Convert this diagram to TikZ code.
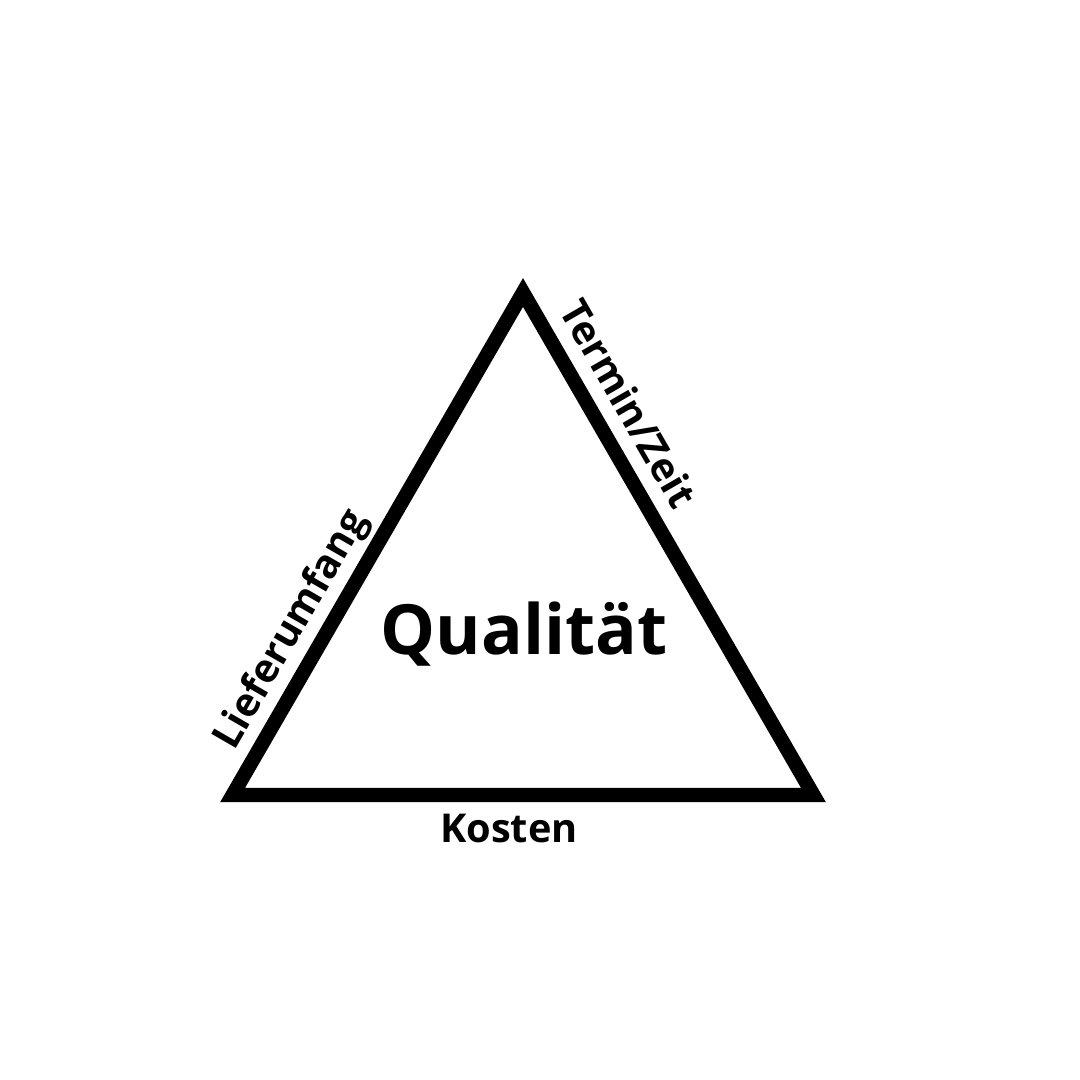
\documentclass[tikz,border=0pt]{standalone}
\usepackage{fontspec}
\setmainfont{Open Sans}
\tikzset{
  sidelabel/.style={font=\fontsize{11.3}{13}\selectfont\bfseries, anchor=base, inner sep=0pt},
  mainlabel/.style={font=\fontsize{19.7}{24}\selectfont\bfseries, anchor=base, inner sep=0pt},
}
\begin{document}
\begin{tikzpicture}
	  \useasboundingbox (0,0) rectangle (10.8,10.8);
	  \coordinate (top) at (5.23,7.875);
	  \coordinate (left) at (2.326,2.85);
	  \coordinate (right) at (8.134,2.85);
	  \draw[line width=4.1pt, line join=miter] (left) -- (top) -- (right) -- cycle;
	  \node[mainlabel] (quality) at (5.24,4.25) {Qualität};
	  \node[sidelabel] (cost) at (5.09,2.37) {Kosten};
	  \node[sidelabel, rotate=60] (scope) at (3.01,4.445) {Lieferumfang};
	  \node[sidelabel, rotate=-60] (time) at (6.16,6.69) {Termin/Zeit};
	\end{tikzpicture}
\end{document}
